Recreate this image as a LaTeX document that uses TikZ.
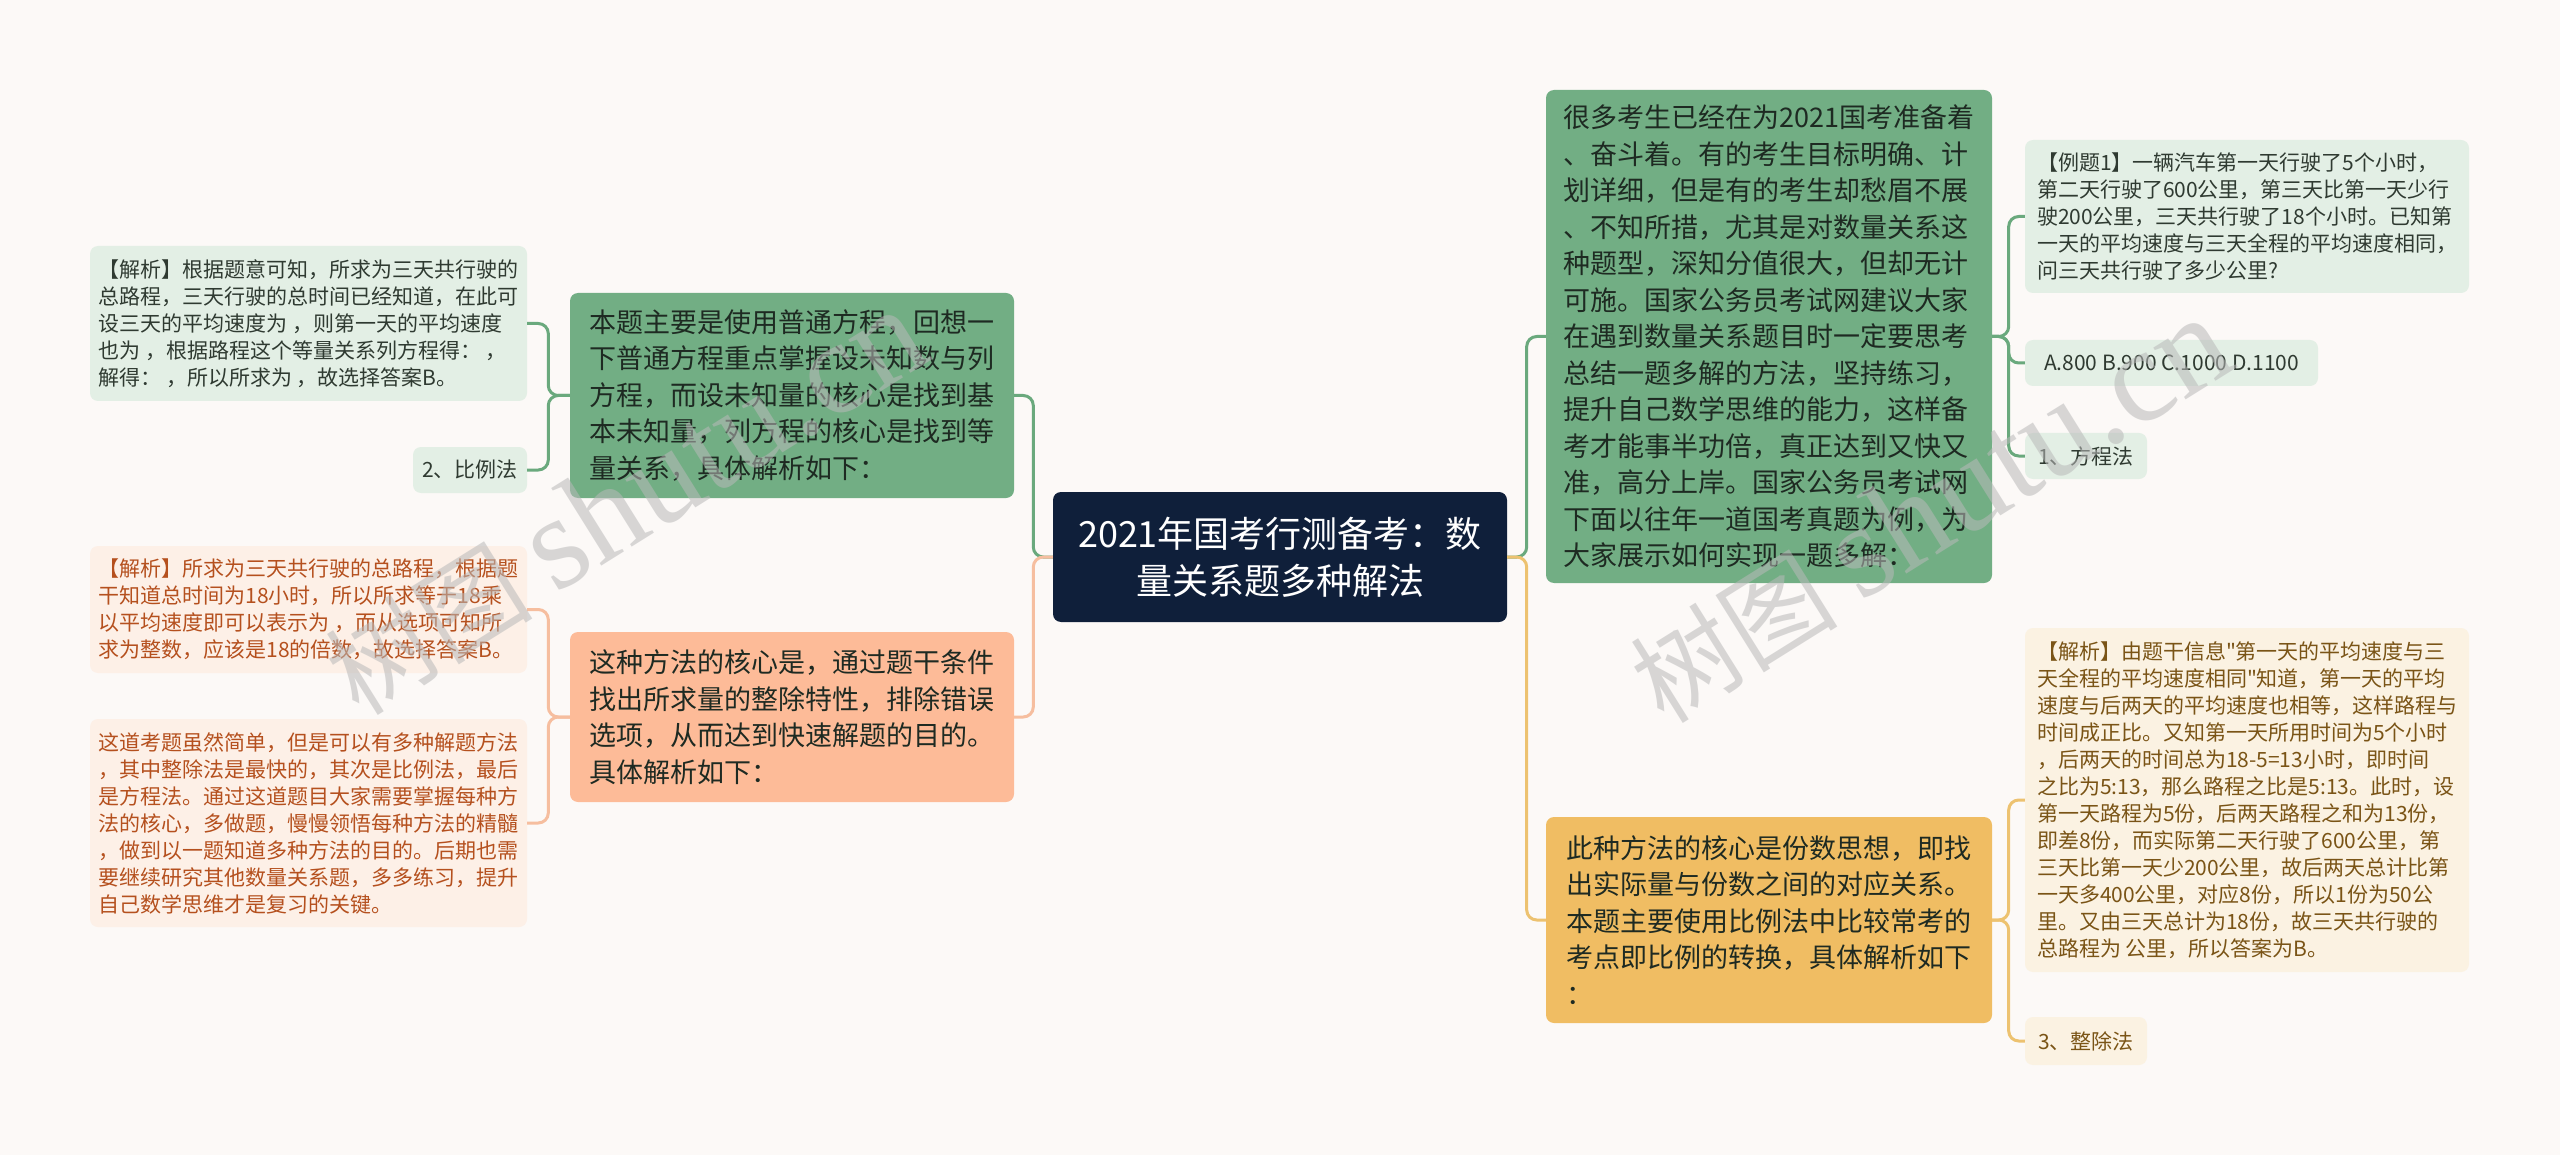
\documentclass[tikz,border=0pt]{standalone}
\usepackage{fontspec}
\setmainfont{Noto Sans CJK SC}[Ligatures=TeXOff]
\newfontfamily\wmfont{Liberation Serif}

\definecolor{papier}{HTML}{FCF9F7}
\definecolor{themablau}{HTML}{0F1F3A}
\definecolor{gruen}{HTML}{72AE84}
\definecolor{gruenhell}{HTML}{E3EFE5}
\definecolor{gruenlinie}{HTML}{6AA97D}
\definecolor{gruentext}{HTML}{2F3A31}
\definecolor{orange}{HTML}{FDBB98}
\definecolor{orangehell}{HTML}{FDF0E7}
\definecolor{orangelinie}{HTML}{F6BE9F}
\definecolor{orangetext}{HTML}{B5501E}
\definecolor{gelb}{HTML}{F0BD63}
\definecolor{gelbhell}{HTML}{FBF2E2}
\definecolor{gelblinie}{HTML}{EDC270}
\definecolor{gelbtext}{HTML}{7A5416}
\definecolor{dunkel}{HTML}{1E2A22}

\tikzset{
    thema/.style={fill=themablau, text=white, rounded corners=8pt, inner sep=0pt,
        align=center, font=\fontsize{36}{47}\selectfont},
    kasten/.style={rounded corners=8pt, inner xsep=12pt, inner ysep=0pt,
        align=left, text=dunkel, font=\fontsize{27}{36.5}\selectfont},
    blatt/.style={rounded corners=8pt, inner xsep=8pt, inner ysep=0pt,
        align=left, font=\fontsize{21}{27}\selectfont},
    ast/.style={line width=3pt, rounded corners=10pt},
    wasserzeichen/.style={rotate=32, text=gray!55, opacity=0.55, inner sep=0pt,
        font=\fontsize{104}{104}\selectfont}
}

\begin{document}
\begin{tikzpicture}[x=1pt, y=-1pt]

    \useasboundingbox (0,0) rectangle (2560,1155);
    \fill [papier] (0,0) rectangle (2560,1155);

    % Mitte
    \node [thema, minimum width=454pt, minimum height=130pt] (mitte) at (1280,557)
        {2021年国考行测备考：数\\量关系题多种解法};

    % linke Seite
    \node [kasten, fill=gruen, minimum width=444pt, minimum height=205pt] (links1) at (792,395.5)
        {本题主要是使用普通方程，回想一\\下普通方程重点掌握设未知数与列\\方程，而设未知量的核心是找到基\\本未知量，列方程的核心是找到等\\量关系，具体解析如下：};
    \node [kasten, fill=orange, minimum width=444pt, minimum height=170pt] (links2) at (792,717)
        {这种方法的核心是，通过题干条件\\找出所求量的整除特性，排除错误\\选项，从而达到快速解题的目的。\\具体解析如下：};

    \node [blatt, fill=gruenhell, text=gruentext, minimum width=437pt, minimum height=155pt] (links1a) at (308.5,323.5)
        {【解析】根据题意可知，所求为三天共行驶的\\总路程，三天行驶的总时间已经知道，在此可\\设三天的平均速度为 ，则第一天的平均速度\\也为 ，根据路程这个等量关系列方程得： ，\\解得： ，所以所求为 ，故选择答案B。};
    \node [blatt, fill=gruenhell, text=gruentext, minimum width=114pt, minimum height=46pt] (links1b) at (470,470)
        {2、比例法};
    \node [blatt, fill=orangehell, text=orangetext, minimum width=437pt, minimum height=127pt] (links2a) at (308.5,609.5)
        {【解析】所求为三天共行驶的总路程，根据题\\干知道总时间为18小时，所以所求等于18乘\\以平均速度即可以表示为 ，而从选项可知所\\求为整数，应该是18的倍数，故选择答案B。};
    \node [blatt, fill=orangehell, text=orangetext, minimum width=437pt, minimum height=208pt] (links2b) at (308.5,823)
        {这道考题虽然简单，但是可以有多种解题方法\\，其中整除法是最快的，其次是比例法，最后\\是方程法。通过这道题目大家需要掌握每种方\\法的核心，多做题，慢慢领悟每种方法的精髓\\，做到以一题知道多种方法的目的。后期也需\\要继续研究其他数量关系题，多多练习，提升\\自己数学思维才是复习的关键。};

    % rechte Seite
    \node [kasten, fill=gruen, minimum width=446pt, minimum height=493pt] (rechts1) at (1769,336.5)
        {很多考生已经在为2021国考准备着\\、奋斗着。有的考生目标明确、计\\划详细，但是有的考生却愁眉不展\\、不知所措，尤其是对数量关系这\\种题型，深知分值很大，但却无计\\可施。国家公务员考试网建议大家\\在遇到数量关系题目时一定要思考\\总结一题多解的方法，坚持练习，\\提升自己数学思维的能力，这样备\\考才能事半功倍，真正达到又快又\\准，高分上岸。国家公务员考试网\\下面以往年一道国考真题为例，为\\大家展示如何实现一题多解：};
    \node [kasten, fill=gelb, minimum width=446pt, minimum height=206pt] (rechts2) at (1769,920)
        {此种方法的核心是份数思想，即找\\出实际量与份数之间的对应关系。\\本题主要使用比例法中比较常考的\\考点即比例的转换，具体解析如下\\：};

    \node [blatt, fill=gruenhell, text=gruentext, minimum width=444pt, minimum height=153pt] (rechts1a) at (2247,216.5)
        {【例题1】一辆汽车第一天行驶了5个小时，\\第二天行驶了600公里，第三天比第一天少行\\驶200公里，三天共行驶了18个小时。已知第\\一天的平均速度与三天全程的平均速度相同，\\问三天共行驶了多少公里?};
    \node [blatt, fill=gruenhell, text=gruentext, minimum width=293pt, minimum height=46pt] (rechts1b) at (2171.5,363)
        {A.800 B.900 C.1000 D.1100};
    \node [blatt, fill=gruenhell, text=gruentext, minimum width=122pt, minimum height=46pt] (rechts1c) at (2086,456)
        {1、方程法};
    \node [blatt, fill=gelbhell, text=gelbtext, minimum width=444pt, minimum height=344pt] (rechts2a) at (2247,800)
        {【解析】由题干信息"第一天的平均速度与三\\天全程的平均速度相同"知道，第一天的平均\\速度与后两天的平均速度也相等，这样路程与\\时间成正比。又知第一天所用时间为5个小时\\，后两天的时间总为18-5=13小时，即时间\\之比为5:13，那么路程之比是5:13。此时，设\\第一天路程为5份，后两天路程之和为13份，\\即差8份，而实际第二天行驶了600公里，第\\三天比第一天少200公里，故后两天总计比第\\一天多400公里，对应8份，所以1份为50公\\里。又由三天总计为18份，故三天共行驶的\\总路程为 公里，所以答案为B。};
    \node [blatt, fill=gelbhell, text=gelbtext, minimum width=122pt, minimum height=48pt] (rechts2b) at (2086,1041)
        {3、整除法};

    % Aeste
    \draw [ast, gruenlinie] (mitte.west) -- ++(-19.5,0) |- (links1.east);
    \draw [ast, orangelinie] (mitte.west) -- ++(-19.5,0) |- (links2.east);
    \draw [ast, gruenlinie] (mitte.east) -- ++(19.5,0) |- (rechts1.west);
    \draw [ast, gelblinie] (mitte.east) -- ++(19.5,0) |- (rechts2.west);

    \foreach \kind in {links1a, links1b}
        \draw [ast, gruenlinie] (links1.west) -- ++(-21.5,0) |- (\kind.east);
    \foreach \kind in {links2a, links2b}
        \draw [ast, orangelinie] (links2.west) -- ++(-21.5,0) |- (\kind.east);
    \foreach \kind in {rechts1a, rechts1b, rechts1c}
        \draw [ast, gruenlinie] (rechts1.east) -- ++(16.5,0) |- (\kind.west);
    \foreach \kind in {rechts2a, rechts2b}
        \draw [ast, gelblinie] (rechts2.east) -- ++(16.5,0) |- (\kind.west);

    % Wasserzeichen
    \node [wasserzeichen] (wz1) at (625,502) {树图 {\wmfont\fontsize{133}{133}\selectfont shutu.cn}};
    \node [wasserzeichen] (wz2) at (1930,510) {树图 {\wmfont\fontsize{133}{133}\selectfont shutu.cn}};

\end{tikzpicture}
\end{document}
